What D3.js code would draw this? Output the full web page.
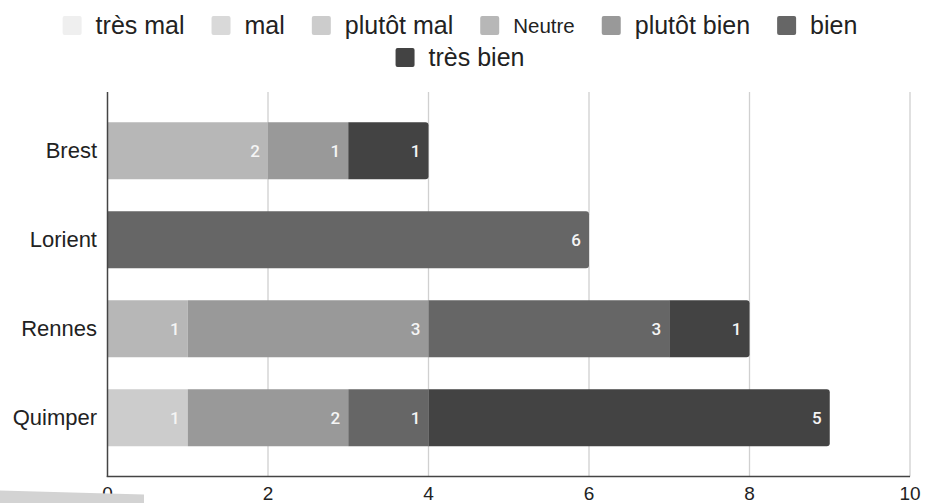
<!DOCTYPE html>
<html>
<head>
<meta charset="utf-8">
<script src="https://cdn.jsdelivr.net/npm/d3@7"></script>
<style>
  html, body { margin: 0; padding: 0; background: #fff; }
  svg { display: block; font-family: "Liberation Sans", Arial, sans-serif; }
</style>
</head>
<body>
<svg id="chart" width="933" height="503"></svg>
<script>
const categories = ['Brest', 'Lorient', 'Rennes', 'Quimper'];
const levels = ['très mal', 'mal', 'plutôt mal', 'Neutre', 'plutôt bien', 'bien', 'très bien'];
const levelColors = ['#efefef', '#d9d9d9', '#cccccc', '#b7b7b7', '#999999', '#666666', '#434343'];

// one array per answer level, in category order
const tresMal    = [0, 0, 0, 0];
const mal        = [0, 0, 0, 0];
const plutotMal  = [0, 0, 0, 1];
const neutre     = [2, 0, 1, 0];
const plutotBien = [1, 0, 3, 2];
const bien       = [0, 6, 3, 1];
const tresBien   = [1, 0, 1, 5];

const xTicks = [0, 2, 4, 6, 8, 10];

const series = [tresMal, mal, plutotMal, neutre, plutotBien, bien, tresBien];
const table = categories.map((c, i) => {
  const row = { cat: c };
  levels.forEach((l, j) => { row[l] = series[j][i]; });
  return row;
});

const svg = d3.select('#chart');
const color = d3.scaleOrdinal().domain(levels).range(levelColors);

const x = d3.scaleLinear().domain([0, 10]).range([107.5, 910]);
const y = d3.scaleBand().domain(categories).range([92, 476.5])
  .paddingInner(0.36).paddingOuter(0.34);

// grid
svg.append('g').attr('class', 'grid')
  .selectAll('line').data(xTicks.filter(d => d > 0)).join('line')
  .attr('x1', d => x(d)).attr('x2', d => x(d))
  .attr('y1', 92).attr('y2', 476.5)
  .attr('stroke', '#d0d0d0').attr('stroke-width', 1.3);

// bars
const stacked = d3.stack().keys(levels)(table);
const lastKey = {};
table.forEach(r => {
  levels.forEach(l => { if (r[l] > 0) lastKey[r.cat] = l; });
});

function segPath (x0, x1, y0, h, round) {
  const r = round ? 3 : 0;
  return `M${x0},${y0} H${x1 - r} Q${x1},${y0} ${x1},${y0 + r} V${y0 + h - r} Q${x1},${y0 + h} ${x1 - r},${y0 + h} H${x0} Z`;
}

const segs = [];
stacked.forEach(s => {
  s.forEach(d => {
    const v = d[1] - d[0];
    if (v > 0) segs.push({ key: s.key, cat: d.data.cat, x0: d[0], x1: d[1], v });
  });
});

const bars = svg.append('g').attr('class', 'bars');
bars.selectAll('path').data(segs).join('path')
  .attr('d', d => segPath(x(d.x0), x(d.x1), y(d.cat), y.bandwidth(), lastKey[d.cat] === d.key))
  .attr('fill', d => color(d.key));

bars.selectAll('text').data(segs).join('text')
  .attr('x', d => x(d.x1) - 8)
  .attr('y', d => y(d.cat) + y.bandwidth() / 2)
  .attr('dy', '0.36em')
  .attr('text-anchor', 'end')
  .attr('fill', '#f5f5f5')
  .style('font-family', 'Roboto, sans-serif')
  .style('font-weight', 500)
  .style('font-size', '17px')
  .text(d => d.v);

// axes
svg.append('line')
  .attr('x1', x(0)).attr('x2', x(0)).attr('y1', 92).attr('y2', 477)
  .attr('stroke', '#444').attr('stroke-width', 1.5);
svg.append('line')
  .attr('x1', x(0) - 0.75).attr('x2', x(10)).attr('y1', 476.5).attr('y2', 476.5)
  .attr('stroke', '#444').attr('stroke-width', 1.5);

svg.append('g').selectAll('text').data(categories).join('text')
  .attr('x', 97)
  .attr('y', d => y(d) + y.bandwidth() / 2)
  .attr('dy', '0.35em')
  .attr('text-anchor', 'end')
  .attr('fill', '#222')
  .style('font-size', '22px')
  .text(d => d);

svg.append('g').selectAll('text').data(xTicks).join('text')
  .attr('x', d => x(d))
  .attr('y', 493)
  .attr('dy', '0.35em')
  .attr('text-anchor', 'middle')
  .attr('fill', '#222')
  .style('font-size', '19px')
  .text(d => d);

// stray grey band in the bottom-left corner
svg.append('path')
  .attr('d', 'M0,490.5 L144,494.5 L144,503 L0,503 Z')
  .attr('fill', '#d3d3d3');

// legend
const legend = svg.append('g').attr('class', 'legend');
const rows = [levels.slice(0, 6), levels.slice(6)];
const rowY = [25.5, 57.5];
const sq = 19, gapText = 14, gapItem = 27;
rows.forEach((items, ri) => {
  const g = legend.append('g');
  let cx = 0;
  items.forEach(l => {
    const item = g.append('g').attr('transform', `translate(${cx},0)`);
    item.append('rect')
      .attr('x', 0).attr('y', rowY[ri] - sq / 2)
      .attr('width', sq).attr('height', sq).attr('rx', 2)
      .attr('fill', color(l));
    const t = item.append('text')
      .attr('x', sq + gapText).attr('y', rowY[ri])
      .attr('dy', '0.35em')
      .attr('fill', '#222')
      .style('font-size', l === 'Neutre' ? '20.5px' : '25px')
      .text(l);
    cx += sq + gapText + t.node().getComputedTextLength() + gapItem;
  });
  const w = cx - gapItem;
  g.attr('transform', `translate(${460 - w / 2},0)`);
});
</script>
</body>
</html>
